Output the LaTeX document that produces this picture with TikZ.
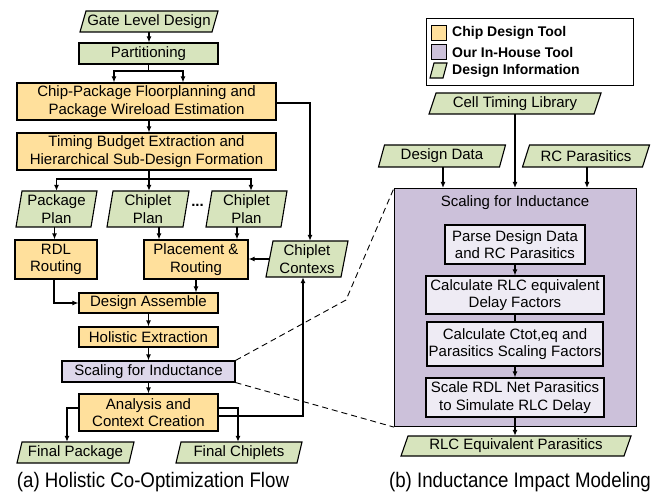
\documentclass[tikz,border=0pt]{standalone}
\usepackage{fontspec}
\setmainfont{Liberation Sans}
\usetikzlibrary{arrows.meta,calc}
\definecolor{cyel}{HTML}{FFE09C}
\definecolor{cgrn}{HTML}{D7E4BD}
\definecolor{clav}{HTML}{DDD7EA}
\definecolor{cinn}{HTML}{EEEBF4}
\definecolor{cbig}{HTML}{CCC1DA}
\tikzset{
  base/.style={font=\fontsize{15}{17.5}\selectfont, align=center, inner sep=0pt},
  bx/.style={base, draw, line width=1.1pt},
  ybox/.style={bx, fill=cyel},
  gbox/.style={bx, fill=cgrn},
  lbox/.style={bx, fill=clav},
  ibox/.style={bx, fill=cinn},
  pbox/.style={draw, line width=1.1pt, fill=cgrn, line join=miter},
  conn/.style={line width=1.8pt},
  arr/.style={conn, -{Latex[length=6pt,width=5pt]}},
  dashln/.style={line width=0.9pt, dash pattern=on 6pt off 4pt},
  legtext/.style={anchor=west, inner sep=0pt, font=\bfseries\fontsize{14}{16}\selectfont},
  capt/.style={inner sep=0pt, font=\fontsize{21}{23}\selectfont}
}
% name, cx, cy, w, h, slant, text
\newcommand{\infop}[7]{%
  \draw[pbox] ({#2-#4/2},{#3+#5/2}) -- ({#2-#4/2+#6},{#3-#5/2}) -- ({#2+#4/2},{#3-#5/2}) -- ({#2+#4/2-#6},{#3+#5/2}) -- cycle;
  \node[base, minimum width={#4-#6}, minimum height=#5] (#1) at (#2,#3) {#7};}
\begin{document}
\begin{tikzpicture}[x=1pt,y=-1pt]
\useasboundingbox (0,0) rectangle (656,497);

% ---------- left flow ----------
\infop{gate}{149}{21.5}{138}{21}{6}{Gate Level Design}
\node[gbox, minimum width=139, minimum height=21] (part) at (148.5,53.5) {Partitioning};
\node[ybox, minimum width=259, minimum height=37] (cpf) at (146.5,101.5) {Chip-Package Floorplanning and\\Package Wireload Estimation};
\node[ybox, minimum width=259, minimum height=37] (tbe) at (146.5,151.5) {Timing Budget Extraction and\\Hierarchical Sub-Design Formation};
\infop{pplan}{56.5}{209}{81}{36}{6}{Package\\Plan}
\infop{cplan1}{148}{209}{82}{36}{6}{Chiplet\\Plan}
\infop{cplan2}{246.5}{209}{81}{36}{6}{Chiplet\\Plan}
\node[base] (dots) at (197.5,205) {\textbf{...}};
\node[ybox, minimum width=82, minimum height=39] (rdl) at (56,259.5) {RDL\\Routing};
\node[ybox, minimum width=104, minimum height=39] (pr) at (196,259.5) {Placement \&\\Routing};
\infop{ctx}{307}{259}{82}{36}{7}{Chiplet\\Contexs}
\node[ybox, minimum width=139, minimum height=20] (da) at (148.5,303) {Design Assemble};
\node[ybox, minimum width=139, minimum height=20] (he) at (148.5,337) {Holistic Extraction};
\node[lbox, minimum width=173, minimum height=21] (sfi) at (148.5,371.5) {Scaling for Inductance};
\node[ybox, minimum width=139, minimum height=37] (aco) at (148.5,412.5) {Analysis and\\Context Creation};
\infop{fp}{75.5}{452.5}{117}{21}{5}{Final Package}
\infop{fc}{239}{452.5}{126}{21}{5}{Final Chiplets}
\node[capt] (capa) at (153,482) {\scalebox{0.89}[1]{(a) Holistic Co-Optimization Flow}};

% connectors left
\coordinate (j1) at (148.5,71);
\coordinate (j2) at (149,179);
\draw[arr] (gate.south) -- (gate.south |- part.north);
\draw[conn] (part.south) -- (j1);
\draw[arr] (j1) -| ([xshift=-32.5]cpf.north);
\draw[arr] (j1) -| ([xshift=36.5]cpf.north);
\draw[arr] ([xshift=2.5]cpf.south) -- ([xshift=2.5]tbe.north);
\draw[arr] ([yshift=-1.5]cpf.east) -| ([xshift=3]ctx.north);
\draw[conn] ([xshift=2.5]tbe.south) -- (j2);
\draw[arr] (j2) -| (pplan.north);
\draw[arr] (j2) -- (j2 |- cplan1.north);
\draw[arr] (j2) -| ([xshift=4.5]cplan2.north);
\draw[arr] ([xshift=-2]pplan.south) -- ([xshift=-2]pplan.south |- rdl.north);
\draw[arr] ([xshift=11]cplan1.south) -- ([xshift=11]cplan1.south |- pr.north);
\draw[arr] ([xshift=-9.5]cplan2.south) -- ([xshift=-9.5]cplan2.south |- pr.north);
\draw[arr] (ctx.west) -- (ctx.west -| pr.east);
\draw[arr] ([xshift=-2]rdl.south) |- (da.west);
\draw[arr] (pr.south) -- (pr.south |- da.north);
\draw[arr] (da.south) -- (he.north);
\draw[arr] (he.south) -- (sfi.north);
\draw[arr] (sfi.south) -- (aco.north);
\draw[arr] ([yshift=-3.5]aco.east) -| ([xshift=-4]ctx.south);
\draw[arr] ([yshift=4.5]aco.west) -| ([xshift=-8.5]fp.north);
\draw[arr] ([yshift=4.5]aco.east) -| ([xshift=-1]fc.north);

% ---------- legend ----------
\node[draw, line width=1pt, minimum width=207, minimum height=67, anchor=north west, inner sep=0pt] (leg) at (426,18) {};
\node[draw, line width=0.8pt, fill=cyel, minimum size=15, inner sep=0pt] (ly) at (438.5,33) {};
\node[legtext] (lyt) at (452,33) {Chip Design Tool};
\node[draw, line width=0.8pt, fill=cbig, minimum size=15, inner sep=0pt] (lp) at (438.5,52) {};
\node[legtext] (lpt) at (452,52) {Our In-House Tool};
\infop{lg}{438.5}{70.5}{17}{15}{4}{}
\node[legtext] (lgt) at (452,70.5) {Design Information};

% ---------- right flow ----------
\infop{ctl}{515}{103.5}{172}{21}{7}{Cell Timing Library}
\infop{dd}{442}{156}{127}{22}{6}{Design Data}
\infop{rc}{586}{156}{127}{22}{7}{RC Parasitics}
\node[draw, line width=1.1pt, fill=cbig, minimum width=242, minimum height=238, anchor=north west, inner sep=0pt] (big) at (394,188) {};
\node[base] (bigt) at (515,203) {Scaling for Inductance};
\node[ibox, minimum width=140, minimum height=39] (parse) at (515,244.5) {Parse Design Data\\and RC Parasitics};
\node[ibox, minimum width=178, minimum height=38] (rlc) at (515,295) {Calculate RLC equivalent\\Delay Factors};
\node[ibox, minimum width=176, minimum height=44] (ctot) at (515,344) {Calculate Ctot,eq and\\Parasitics Scaling Factors};
\node[ibox, minimum width=178, minimum height=39] (scale) at (515,397.5) {Scale RDL Net Parasitics\\to Simulate RLC Delay};
\infop{rlcp}{516}{446}{230}{20}{7}{RLC Equivalent Parasitics}
\node[capt] (capb) at (520,482) {\scalebox{0.89}[1]{(b) Inductance Impact Modeling}};

\draw[arr] (ctl.south) -- (ctl.south |- big.north);
\draw[arr] ([xshift=1]dd.south) -- ([xshift=1]dd.south |- big.north);
\draw[arr] ([xshift=1]rc.south) -- ([xshift=1]rc.south |- big.north);
\draw[arr] (parse.south) -- (rlc.north);
\draw[conn] (rlc.south) -- (ctot.north);
\draw[arr] (ctot.south) -- (scale.north);
\draw[arr] (scale.south) -- (scale.south |- rlcp.north);

% dashed zoom lines
\coordinate (dk) at (346,300);
\draw[dashln] (sfi.north east) -- (dk) -- (big.north west);
\draw[dashln] (sfi.south east) -- (big.south west);
\end{tikzpicture}
\end{document}
